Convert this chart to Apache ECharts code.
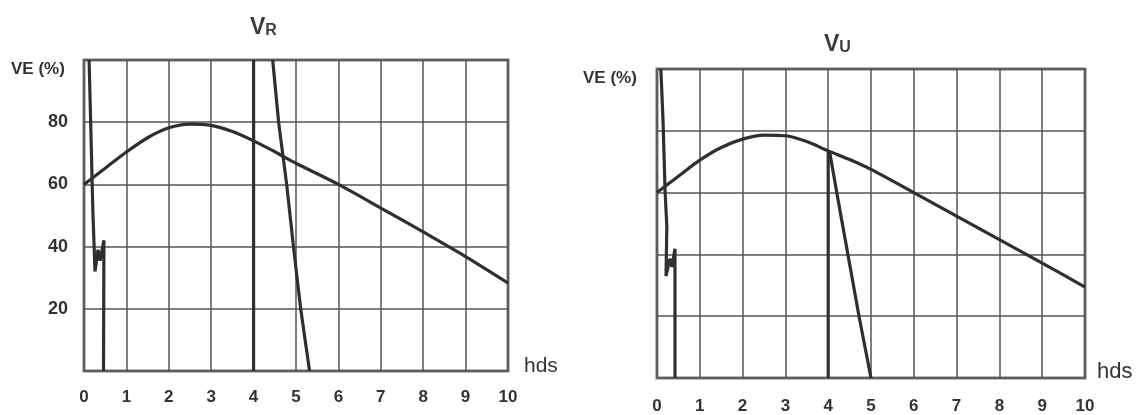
<!DOCTYPE html>
<html><head><meta charset="utf-8">
<script src="https://cdn.jsdelivr.net/npm/echarts@6/dist/echarts.min.js"></script>
<style>html,body{margin:0;padding:0;background:#fff}#c{width:1147px;height:415px}</style>
</head><body><div id="c"></div>
<script>
// ---- data ----
const xTickLabels = ['0','1','2','3','4','5','6','7','8','9','10'];
const yTickLabels = ['20','40','60','80'];

// Left panel  V_R
const vrCurve = [[0,60],[0.5,65.2],[1,70.4],[1.5,75],[2,78.2],[2.5,79.4],[3,79],[3.5,77],[4,74],[4.5,70.5],[5,66.8],[6,60],[7,52.4],[8,44.7],[9,36.8],[10,28.3]];
const vrSpike = [[0.12,100],[0.15,84],[0.21,51],[0.26,32],[0.33,39],[0.38,35.5],[0.47,42],[0.46,0]];
const vrVertical = [[4,0],[4,100]];
const vrSlope = [[4.45,100],[4.59,80],[4.78,60],[4.94,40],[5.11,20],[5.32,0]];

// Right panel  V_U
const vuCurve = [[0,60],[0.5,65.3],[1,70.5],[1.5,74.6],[2,77.3],[2.5,78.6],[3,78.4],[3.5,76.5],[4,73.5],[4.5,70.7],[5,67.5],[6,60],[7,52.4],[8,44.8],[9,37.2],[10,29.4]];
const vuSpike = [[0.09,100],[0.14,83.6],[0.19,60],[0.23,49],[0.21,33],[0.30,38.6],[0.35,36],[0.42,41.8],[0.42,0]];
const vuVertical = [[4,0],[4,73.5]];
const vuSlope = [[4.03,73.5],[4.2,60],[4.46,40],[4.72,20],[5.0,0]];

const FONT = 'Arial, "Liberation Sans", sans-serif';
const INK = '#333';
const GRIDC = '#555';

function xAx(gridIndex, margin){
  return {
    type:'value', gridIndex, min:0, max:10, interval:1,
    axisLine:{show:false}, axisTick:{show:false},
    splitLine:{show:true, lineStyle:{color:GRIDC, width:1.5}},
    axisLabel:{show:true, margin, color:INK, fontFamily:FONT, fontWeight:'bold', fontSize:17,
      formatter:v => xTickLabels[Math.round(v)] ?? ''}
  };
}
function yAx(gridIndex, showLabels){
  return {
    type:'value', gridIndex, min:0, max:100, interval:20,
    axisLine:{show:false}, axisTick:{show:false},
    splitLine:{show:true, lineStyle:{color:GRIDC, width:1.5}},
    axisLabel:{show:showLabels, margin:16, color:INK, fontFamily:FONT, fontWeight:'bold', fontSize:18,
      showMinLabel:false, showMaxLabel:false,
      formatter:v => yTickLabels.includes(String(v)) ? String(v) : ''}
  };
}
function line(data, idx, smooth){
  return {type:'line', xAxisIndex:idx, yAxisIndex:idx, data, showSymbol:false,
    smooth: smooth ? 0.3 : false,
    lineStyle:{color:'#2f2f2f', width:3.2}, animation:false};
}

const chart = echarts.init(document.getElementById('c'), null, {renderer:'canvas'});
chart.setOption({
  backgroundColor:'#fff',
  animation:false,
  grid:[
    {left:84, top:60, width:424, height:311, show:true, borderColor:'#7a7a7a', borderWidth:3, backgroundColor:'transparent'},
    {left:657, top:69, width:428, height:311, show:true, borderColor:'#7a7a7a', borderWidth:3, backgroundColor:'transparent'}
  ],
  xAxis:[xAx(0,18), xAx(1,20)],
  yAxis:[yAx(0,true), yAx(1,false)],
  series:[
    line(vrCurve,0,true), line(vrSpike,0,false), line(vrVertical,0,false), line(vrSlope,0,false),
    line(vuCurve,1,true), line(vuSpike,1,false), line(vuVertical,1,false), line(vuSlope,1,false)
  ],
  graphic:[
    {type:'text', left:250, top:16, style:{text:'{a|V}{b|R}', fill:'#3c3c3c', rich:{
      a:{fontSize:23, fontWeight:'bold', fontFamily:FONT, fill:'#3c3c3c', verticalAlign:'bottom', lineHeight:24},
      b:{fontSize:16, fontWeight:'bold', fontFamily:FONT, fill:'#3c3c3c', verticalAlign:'bottom', lineHeight:24}}}},
    {type:'text', left:824, top:33, style:{text:'{a|V}{b|U}', fill:'#3c3c3c', rich:{
      a:{fontSize:23, fontWeight:'bold', fontFamily:FONT, fill:'#3c3c3c', verticalAlign:'bottom', lineHeight:24},
      b:{fontSize:16, fontWeight:'bold', fontFamily:FONT, fill:'#3c3c3c', verticalAlign:'bottom', lineHeight:24}}}},
    {type:'text', left:11, top:61, style:{text:'VE (%)', fill:INK, font:'bold 17px ' + FONT}},
    {type:'text', left:583, top:70, style:{text:'VE (%)', fill:INK, font:'bold 17px ' + FONT}},
    {type:'text', left:524, top:356, style:{text:'hds', fill:INK, font:'21px ' + FONT}},
    {type:'text', left:1097, top:361, style:{text:'hds', fill:INK, font:'22px ' + FONT}}
  ]
});
</script>
</body></html>
